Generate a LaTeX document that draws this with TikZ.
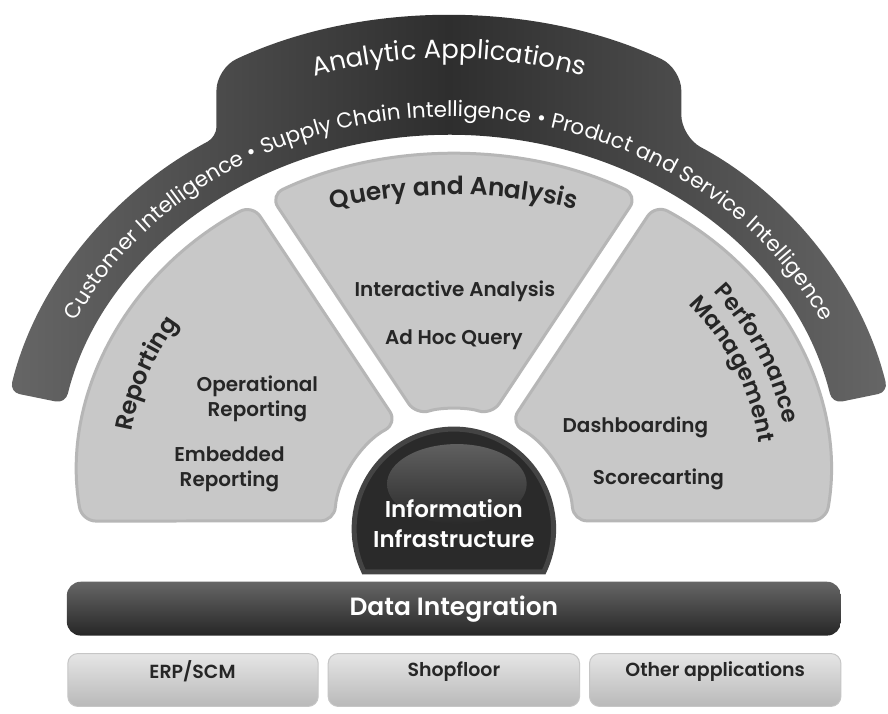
\documentclass[tikz,border=0pt]{standalone}
\usepackage{fontspec}
\setmainfont{Poppins}[BoldFont={Poppins SemiBold}]
\usetikzlibrary{positioning,decorations.text}
\definecolor{bandmid}{HTML}{2E2E2E}
\definecolor{bandside}{HTML}{666666}
\definecolor{secfill}{HTML}{C8C8C8}
\definecolor{secrim}{HTML}{B6B6B6}
\definecolor{labeltext}{HTML}{262626}
\definecolor{infodark}{HTML}{2A2A2A}
\definecolor{inforim}{HTML}{444444}
\tikzset{sector/.style = {fill=secfill,draw=secrim,line width=3pt,rounded corners=14pt}}

\begin{document}
\begin{tikzpicture}[x=1pt,y=1pt,
    inlabel/.style={text=labeltext,font=\bfseries\fontsize{20}{25}\selectfont,align=center},
    whitelabel/.style={text=white,font=\bfseries\fontsize{23}{30}\selectfont,align=center},
    srclabel/.style={text=labeltext,font=\bfseries\fontsize{19}{19}\selectfont},
    srcbox/.style={rounded corners=10pt,top color=gray!20,bottom color=gray!55,draw=gray!45,line width=1pt}]
\fill[white] (0,0) rectangle (888,695);
% analytic applications band
\path[left color=bandside,right color=bandside,middle color=bandmid,rounded corners=10pt]
  (834.4,295.7) arc[start angle=12,end angle=168,x radius=393,y radius=340]
  -- (9.8,307.1) arc[start angle=168,end angle=121.18,x radius=450,y radius=395]
  [rounded corners=22pt] -- (217,631.6) arc[start angle=117.42,end angle=62.58,x radius=506,y radius=458]
  -- (683,563) [rounded corners=10pt] arc[start angle=58.82,end angle=12,x radius=450,y radius=395]
  -- cycle;
\path[decorate,decoration={text along path,text align=center,
    text={|\fontsize{26}{26}\selectfont\color{white}|Analytic Applications}}]
  (450,225) ++(125:458 and 417) arc[start angle=125,end angle=55,x radius=458,y radius=417];
\path[decorate,decoration={text along path,text align=center,
    text={|\fontsize{21.5}{21.5}\selectfont\color{white}|Customer Intelligence • Supply Chain Intelligence • Product and Service Intelligence}}]
  (450,225) ++(177:413 and 358) arc[start angle=177,end angle=3,x radius=413,y radius=358];
% the three sectors
\path[sector] (325.8,385.4) -- (253.0,495.0) arc[start angle=122.4,end angle=188.45,x radius=377,y radius=320]
  -- (335.3,178) arc[start angle=176.18,end angle=118.06,radius=120] -- cycle;
\path[sector] (344.0,394.1) -- (270.8,504.3) arc[start angle=119.25,end angle=60.75,x radius=377,y radius=320]
  -- (492.76,283.9) arc[start angle=71.7,end angle=108.3,radius=120] -- cycle;
\path[sector] (701.3,178) -- (827.9,178) arc[start angle=-8.45,end angle=57.6,x radius=377,y radius=320]
  -- (511.45,275.89) arc[start angle=61.94,end angle=3.82,radius=120] -- cycle;
\path[decorate,decoration={text along path,text align=center,
    text={|\bfseries\fontsize{25}{25}\selectfont\color{labeltext}|Query and Analysis}}]
  (455,-15) ++(112:520) arc[start angle=112,end angle=68,radius=520];
\path[decorate,decoration={text along path,text align=center,
    text={|\bfseries\fontsize{24}{24}\selectfont\color{labeltext}|Reporting}}]
  (455,225) ++(188:327 and 282) arc[start angle=188,end angle=132,x radius=327,y radius=282];
\path[decorate,decoration={text along path,text align=center,
    text={|\bfseries\fontsize{23}{23}\selectfont\color{labeltext}|Performance}}]
  (455,225) ++(51:335 and 290) arc[start angle=51,end angle=-3,x radius=335,y radius=290];
\path[decorate,decoration={text along path,text align=center,
    text={|\bfseries\fontsize{23}{23}\selectfont\color{labeltext}|Management}}]
  (455,225) ++(51:308 and 263) arc[start angle=51,end angle=-5,x radius=308,y radius=263];
\node[inlabel] (interactive) at (456,408) {Interactive Analysis};
\node[inlabel] (adhoc) at (455,360) {Ad Hoc Query};
\node[inlabel] (operational) at (258,300) {Operational\\Reporting};
\node[inlabel] (embedded) at (230,230) {Embedded\\Reporting};
\node[inlabel] (dashboard) at (637,272) {Dashboarding};
\node[inlabel] (scorecard) at (660,220) {Scorecarting};
% information infrastructure
\path[fill=infodark,draw=inforim,line width=5pt] (545.25,127) arc[start angle=-25.5,end angle=205.5,radius=100] -- cycle;
\path[top color=gray!75!black,bottom color=infodark] (458,215) ellipse[x radius=70,y radius=40];
\node[whitelabel] (info) at (455,175) {Information\\Infrastructure};
% data integration and sources
\node[whitelabel,font=\bfseries\fontsize{25}{25}\selectfont,minimum width=776pt,minimum height=54pt,rounded corners=14pt,
      top color=gray!80!black,bottom color=black!85] (data) at (455,90) {Data Integration};
\path[srcbox] (68,-8) rectangle (319,45);
\path[srcbox] (329,-8) rectangle (581,45);
\path[srcbox] (591,-8) rectangle (843,45);
\node[srclabel] (erp) at (193,27) {ERP/SCM};
\node[srclabel] (shop) at (455,27) {Shopfloor};
\node[srclabel] (other) at (717,27) {Other applications};
\end{tikzpicture}
\end{document}
